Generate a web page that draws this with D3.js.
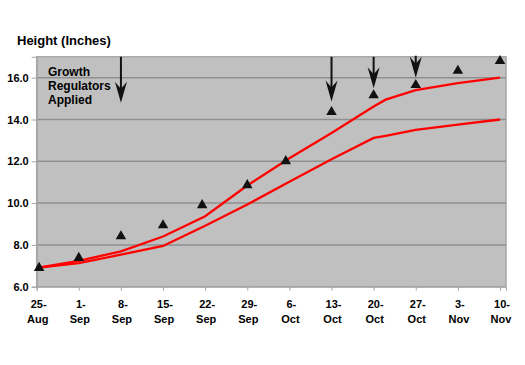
<!DOCTYPE html>
<html>
<head>
<meta charset="utf-8">
<script src="https://d3js.org/d3.v7.min.js"></script>
<style>
  body { margin: 0; background: #fff; }
  text { font-family: "Liberation Sans", Arial, sans-serif; font-weight: bold; fill: #000; }
</style>
</head>
<body>
<svg width="525" height="365"></svg>
<script>
// tick labels along the x axis (days after 25-Aug)
var tickDays = [0, 7, 14, 21, 28, 35, 42, 49, 56, 63, 70, 77];
var tickTop = ["25-", "1-", "8-", "15-", "22-", "29-", "6-", "13-", "20-", "27-", "3-", "10-"];
var tickBottom = ["Aug", "Sep", "Sep", "Sep", "Sep", "Sep", "Oct", "Oct", "Oct", "Oct", "Nov", "Nov"];
var yTicks = [6, 8, 10, 12, 14, 16];

// measured heights (triangles)
var obsDays = [0.4, 7, 14, 21, 27.5, 35, 41.4, 49, 56, 63, 70, 77];
var obsHeight = [6.9, 7.38, 8.41, 8.94, 9.9, 10.86, 12.01, 14.36, 15.16, 15.65, 16.33, 16.8];

// two red curves
var lineDays = [0, 7, 14, 21, 28, 35, 42, 49, 56, 58, 63, 70, 77];
var upperHeight = [6.9, 7.24, 7.69, 8.4, 9.37, 10.84, 12.15, 13.35, 14.62, 14.95, 15.4, 15.74, 16.0];
var lowerHeight = [6.9, 7.13, 7.53, 7.95, 8.92, 9.93, 11.02, 12.1, 13.12, 13.22, 13.5, 13.76, 14.0];

// growth regulator applications (arrows)
var arrowDays = [14, 49, 56, 63];
var arrowTop = [17.0, 17.0, 17.0, 17.05];
var arrowTip = [14.8, 14.86, 15.5, 16.0];

var svg = d3.select("svg");
var plotL = 36.7, plotR = 506, plotT = 56.8, plotB = 286.7;

var x = d3.scaleLinear().domain([0, 78]).range([plotL, plotR]);
var y = d3.scaleLinear().domain([6, 17]).range([plotB, plotT]);

// plot background
svg.append("rect")
  .attr("x", plotL).attr("y", plotT)
  .attr("width", plotR - plotL).attr("height", plotB - plotT)
  .attr("fill", "#c0c0c0")
  .attr("stroke", "#a6a6a6").attr("stroke-width", 1.5);

// gridlines
svg.append("g").selectAll("line")
  .data(yTicks.slice(1)).enter().append("line")
  .attr("x1", plotL).attr("x2", plotR)
  .attr("y1", function(d) { return y(d); })
  .attr("y2", function(d) { return y(d); })
  .attr("stroke", "#8f8f8f").attr("stroke-width", 1.5);

// y axis
var yAxis = svg.append("g")
  .attr("transform", "translate(" + plotL + ",0)")
  .call(d3.axisLeft(y).tickValues(yTicks).tickFormat(d3.format(".1f")).tickSize(5).tickPadding(3));
yAxis.select(".domain").attr("stroke", "#a6a6a6");
yAxis.selectAll(".tick line").attr("stroke", "#a6a6a6");
yAxis.selectAll(".tick text").style("font-size", "11px").style("font-family", "Liberation Sans, Arial, sans-serif").style("font-weight", "bold");

// x axis
var xAxis = svg.append("g")
  .attr("transform", "translate(0," + plotB + ")")
  .call(d3.axisBottom(x).tickValues(tickDays).tickFormat("").tickSize(4));
xAxis.select(".domain").attr("stroke", "#a6a6a6");
xAxis.selectAll(".tick line").attr("stroke", "#a6a6a6");

var xl = svg.append("g").selectAll("text")
  .data(tickDays).enter().append("text")
  .attr("text-anchor", "middle")
  .style("font-size", "11px");
xl.append("tspan").attr("x", function(d) { return x(d) + 2; }).attr("y", 308)
  .text(function(d, i) { return tickTop[i]; });
xl.append("tspan").attr("x", function(d) { return x(d) + 1; }).attr("y", 323)
  .text(function(d, i) { return tickBottom[i]; });

// red lines
var line = d3.line().x(function(d) { return x(d[0]); }).y(function(d) { return y(d[1]); });
[upperHeight, lowerHeight].forEach(function(vals) {
  svg.append("path")
    .datum(lineDays.map(function(d, i) { return [d, vals[i]]; }))
    .attr("d", line)
    .attr("fill", "none")
    .attr("stroke", "#ff0000")
    .attr("stroke-width", 2.3);
});

// triangles
svg.append("g").selectAll("path")
  .data(obsDays).enter().append("path")
  .attr("transform", function(d, i) { return "translate(" + x(d) + "," + y(obsHeight[i]) + ")"; })
  .attr("d", d3.symbol().type(d3.symbolTriangle).size(48))
  .attr("fill", "#111");

// arrows
var arrows = svg.append("g");
arrowDays.forEach(function(d, i) {
  var ax = x(d), y0 = y(arrowTop[i]), y1 = y(arrowTip[i]);
  arrows.append("line")
    .attr("x1", ax).attr("x2", ax)
    .attr("y1", y0).attr("y2", y1 - 10)
    .attr("stroke", "#111").attr("stroke-width", 2);
  arrows.append("path")
    .attr("d", "M" + ax + "," + y1 + " L" + (ax - 6) + "," + (y1 - 21) +
      " L" + ax + "," + (y1 - 14) + " L" + (ax + 6) + "," + (y1 - 21) + " Z")
    .attr("fill", "#111");
});

// titles
svg.append("text").attr("x", 17).attr("y", 45)
  .style("font-size", "13px").text("Height (Inches)");
var note = svg.append("text").style("font-size", "12px");
["Growth", "Regulators", "Applied"].forEach(function(t, i) {
  note.append("tspan").attr("x", 48).attr("y", 76 + i * 14).text(t);
});
</script>
</body>
</html>
